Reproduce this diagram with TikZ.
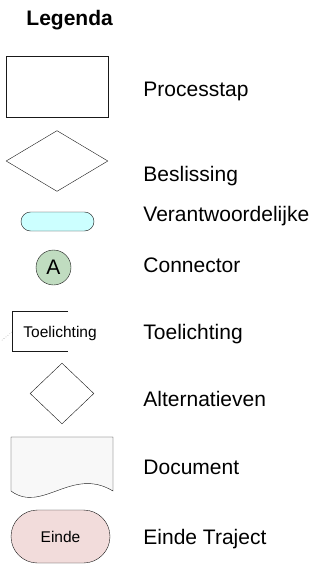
\documentclass[tikz,border=0pt]{standalone}
\usepackage{fontspec}
\setmainfont{Liberation Sans}
\usetikzlibrary{shapes.geometric}
\definecolor{verantw}{HTML}{CCFFFF}
\definecolor{conn}{HTML}{C0DCC0}
\definecolor{docgray}{HTML}{F8F8F8}
\definecolor{eindrood}{HTML}{F2DCDB}
\newcommand{\lblfont}{\fontsize{21}{25}\selectfont}
\newcommand{\kleinfont}{\fontsize{15.5}{18}\selectfont}

\begin{document}
\begin{tikzpicture}
                \tikzset{x=1pt, y=-1pt, line width=0.9pt}
                \tikzstyle{sym}=[draw=black!90, inner sep=0pt]
                \tikzstyle{lbl}=[anchor=base west, inner sep=0pt, font=\lblfont]
                \useasboundingbox (0, 0) rectangle (324, 564);

                % title
                \draw (26.0, 25.5)    node[lbl, font=\lblfont\bfseries]   (title)  {Legenda};

                % symbols
                \draw (57.0, 86.5)    node[sym, rectangle, minimum width=102pt, minimum height=61pt]   (proc)  {};
                \draw (57.0, 161.0)   node[sym, diamond, minimum width=102pt, minimum height=61pt]     (besl)  {};
                \draw (57.5, 221.5)   node[sym, rectangle, rounded corners=9.5pt, fill=verantw,
                                           minimum width=73pt, minimum height=19pt]                    (verw)  {};
                \draw (53.5, 267.5)   node[sym, circle, fill=conn, minimum size=35pt,
                                           font=\lblfont]                                              (conA)  {A};
                \draw (23.0, 337.5)   node[anchor=base west, inner sep=0pt, font=\kleinfont]           (toel)  {Toelichting};
                \draw (62.0, 393.5)   node[sym, diamond, minimum width=64pt, minimum height=61pt]      (alt)   {};
                \draw (60.5, 536.5)   node[sym, rectangle, rounded corners=26.5pt, fill=eindrood,
                                           minimum width=99pt, minimum height=53pt, font=\kleinfont]   (einde) {Einde};

                % toelichting bracket
                \draw [draw=black!90]  (68, 311) -- (12, 311) -- (12, 351) -- (68, 351);
                \coordinate (toelL)   at (12, 332);
                \coordinate (toelE)   at (1, 341);
                \draw [dotted, line width=0.5pt, black!60] (toelL) -- (toelE);

                % document
                \draw [sym, fill=docgray] (11, 437) -- (113, 437) -- (113, 491)
                      .. controls (72, 466) and (42, 514) .. (11, 491) -- cycle;

                % labels
                \draw (143.0, 97.0)   node[lbl]   (lproc)  {Processtap};
                \draw (143.0, 181.5)  node[lbl]   (lbesl)  {Beslissing};
                \draw (143.0, 221.5)  node[lbl]   (lverw)  {Verantwoordelijke};
                \draw (143.0, 272.5)  node[lbl]   (lconA)  {Connector};
                \draw (143.0, 339.0)  node[lbl]   (ltoel)  {Toelichting};
                \draw (143.0, 406.0)  node[lbl]   (lalt)   {Alternatieven};
                \draw (143.0, 474.0)  node[lbl]   (ldoc)   {Document};
                \draw (143.0, 544.0)  node[lbl]   (leinde) {Einde Traject};
            \end{tikzpicture}
\end{document}
